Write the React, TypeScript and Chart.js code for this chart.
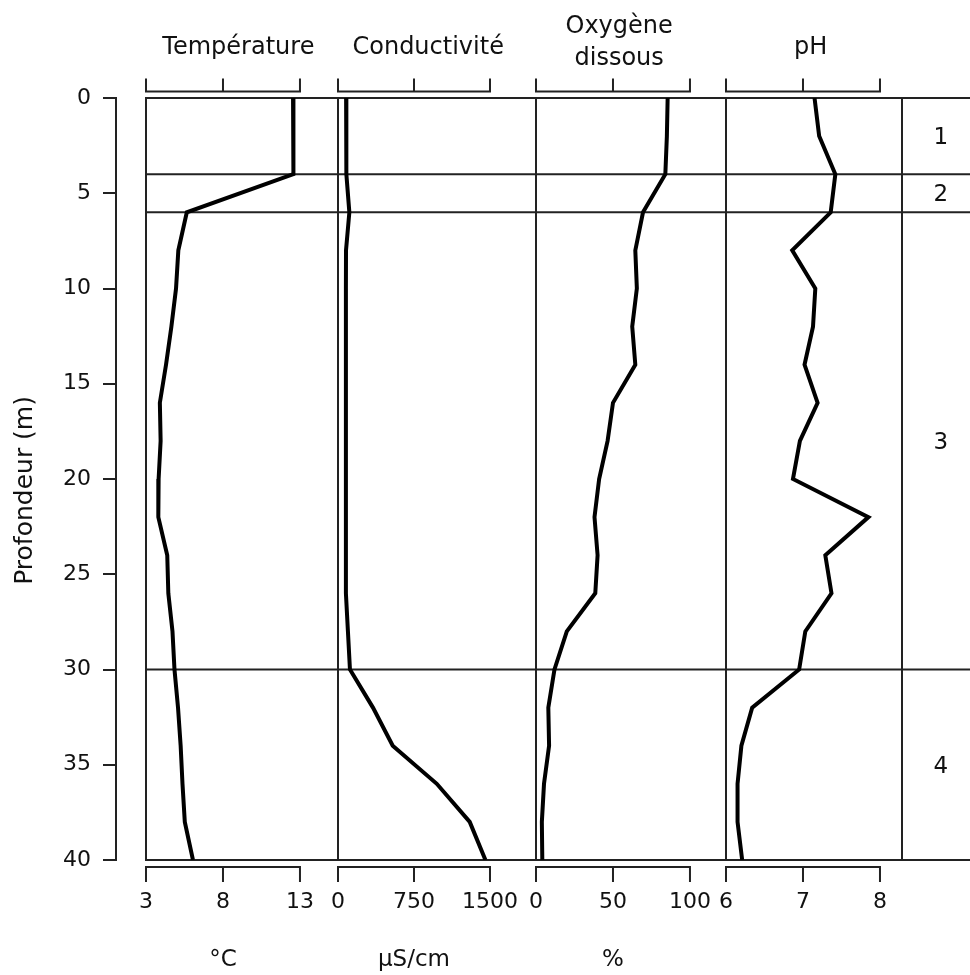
import React, { useEffect, useRef } from "react";
import { Chart, registerables } from "chart.js";

Chart.register(...registerables);

// Sampling depths (m)
const depths = [0, 2, 4, 6, 8, 10, 12, 14, 16, 18, 20, 22, 24, 26, 28, 30, 32, 34, 36, 38, 40];

// Profiles measured at each depth
const temperature = [12.55, 12.55, 12.6, 5.65, 5.1, 4.95, 4.65, 4.3, 3.9, 3.95, 3.82, 3.8, 4.38, 4.45, 4.72, 4.85, 5.08, 5.25, 5.37, 5.52, 6.05];
const conductivity = [80, 80, 85, 112, 79, 78, 78, 78, 78, 78, 78, 78, 78, 78, 98, 118, 345, 540, 975, 1300, 1455];
const oxygen = [85.5, 85, 84, 69.5, 64.5, 65.5, 62.5, 64.5, 50, 46.5, 41, 38, 40, 38.5, 20, 12, 8, 8.5, 5.2, 3.8, 4.1];
const ph = [7.15, 7.21, 7.42, 7.36, 6.86, 7.16, 7.13, 7.02, 7.19, 6.96, 6.87, 7.85, 7.29, 7.37, 7.03, 6.95, 6.34, 6.2, 6.15, 6.15, 6.21];

// Axis ticks
const depthTicks = [0, 5, 10, 15, 20, 25, 30, 35, 40];
const tempTicks = [3, 8, 13];
const condTicks = [0, 750, 1500];
const oxyTicks = [0, 50, 100];
const phTicks = [6, 7, 8];

// Layer boundaries (m) and layer names
const zoneBounds = [0, 4, 6, 30, 40];
const zoneLabels = ["1", "2", "3", "4"];

const depthTitle = "Profondeur (m)";

const FONT = '"DejaVu Sans", sans-serif';
const INK = "#111";
const RULE = "#222";

type Panel = {
  id: string;
  title: string[];
  unit: string;
  values: number[];
  ticks: number[];
  min: number;
  max: number;
  weight: number;
  titleAt: number;
};

const panels: Panel[] = [
  { id: "xT", title: ["Température"], unit: "°C", values: temperature, ticks: tempTicks, min: 3, max: 15.47, weight: 192, titleAt: 9.0 },
  { id: "xC", title: ["Conductivité"], unit: "µS/cm", values: conductivity, ticks: condTicks, min: 0, max: 1954, weight: 198, titleAt: 890 },
  { id: "xO", title: ["Oxygène", "dissous"], unit: "%", values: oxygen, ticks: oxyTicks, min: 0, max: 123.4, weight: 190, titleAt: 54 },
  { id: "xP", title: ["pH"], unit: "", values: ph, ticks: phTicks, min: 6, max: 8.286, weight: 176, titleAt: 7.1 },
];

const BOTTOM_AXIS_HEIGHT = 115;

// keep every bottom axis at a fixed height and stop label overhang from shrinking the plot
const fixBottomAxis = (s: any) => {
  s.height = BOTTOM_AXIS_HEIGHT;
  s.paddingLeft = 0;
  s.paddingRight = 0;
  s.paddingTop = 0;
  s.paddingBottom = 0;
};

const blankAxis = (weight: number) => ({
  type: "linear",
  axis: "x",
  position: "bottom",
  stack: "panels",
  stackWeight: weight,
  min: 0,
  max: 1,
  ticks: { display: false },
  grid: { display: false },
  border: { display: false },
  afterFit: fixBottomAxis,
});

// Frame, brackets, titles and layer labels around the profiles
const framePlugin = {
  id: "profileFrame",
  beforeDatasetsDraw(chart: any) {
    const { ctx, chartArea, scales } = chart;
    const y = scales.y;
    const top = chartArea.top;
    const bottom = chartArea.bottom;
    const first = scales[panels[0].id];
    const last = scales[panels[panels.length - 1].id];

    ctx.save();
    ctx.strokeStyle = RULE;
    ctx.lineWidth = 2;
    ctx.lineCap = "butt";
    ctx.lineJoin = "miter";

    // horizontal layer boundaries
    for (const d of zoneBounds) {
      const py = y.getPixelForValue(d);
      ctx.beginPath();
      ctx.moveTo(first.left - 1, py);
      ctx.lineTo(chartArea.right, py);
      ctx.stroke();
    }

    // vertical panel borders
    const xs = panels.map((p) => scales[p.id].left).concat([last.right]);
    const y0 = y.getPixelForValue(zoneBounds[0]);
    const y1 = y.getPixelForValue(zoneBounds[zoneBounds.length - 1]);
    for (const x of xs) {
      ctx.beginPath();
      ctx.moveTo(x, y0 - 1);
      ctx.lineTo(x, y1 + 1);
      ctx.stroke();
    }

    // bracket axes above and below each panel
    const topY = top - 6.5;
    const topTick = 13;
    const botY = bottom + 7;
    const botTick = 15;
    for (const p of panels) {
      const s = scales[p.id];
      const px = s.ticks.map((t: any) => s.getPixelForValue(t.value));
      const a = px[0];
      const b = px[px.length - 1];
      ctx.beginPath();
      ctx.moveTo(a, topY - topTick);
      ctx.lineTo(a, topY);
      ctx.lineTo(b, topY);
      ctx.lineTo(b, topY - topTick);
      ctx.stroke();
      ctx.beginPath();
      ctx.moveTo(a, botY + botTick);
      ctx.lineTo(a, botY);
      ctx.lineTo(b, botY);
      ctx.lineTo(b, botY + botTick);
      ctx.stroke();
      for (let i = 1; i < px.length - 1; i++) {
        ctx.beginPath();
        ctx.moveTo(px[i], topY - topTick);
        ctx.lineTo(px[i], topY);
        ctx.moveTo(px[i], botY);
        ctx.lineTo(px[i], botY + botTick);
        ctx.stroke();
      }

      // panel title
      ctx.fillStyle = INK;
      ctx.textAlign = "center";
      ctx.textBaseline = "alphabetic";
      ctx.font = `24px ${FONT}`;
      const tx = s.getPixelForValue(p.titleAt);
      if (p.title.length === 1) {
        ctx.fillText(p.title[0], tx, top - 44);
      } else {
        p.title.forEach((line, i) => ctx.fillText(line, tx, top - 65 + i * 32));
      }

      // unit under the bottom bracket
      if (p.unit) {
        ctx.font = `23px ${FONT}`;
        ctx.fillText(p.unit, (a + b) / 2, bottom + 106);
      }
    }

    // layer numbers in the right-hand column
    const zone = scales.zone;
    ctx.font = `23px ${FONT}`;
    ctx.textAlign = "center";
    ctx.textBaseline = "middle";
    ctx.fillStyle = INK;
    const zx = zone.getPixelForValue(0.57);
    zoneLabels.forEach((lab, i) => {
      const mid = (zoneBounds[i] + zoneBounds[i + 1]) / 2;
      ctx.fillText(lab, zx, y.getPixelForValue(mid) + 2);
    });

    // depth axis title, rotated
    ctx.save();
    ctx.translate(32, y.getPixelForValue(20.6));
    ctx.rotate(-Math.PI / 2);
    ctx.font = `25px ${FONT}`;
    ctx.textAlign = "center";
    ctx.textBaseline = "alphabetic";
    ctx.fillText(depthTitle, 0, 0);
    ctx.restore();

    ctx.restore();
  },
};

export default function App() {
  const ref = useRef<HTMLCanvasElement>(null);

  useEffect(() => {
    const canvas = ref.current;
    if (!canvas) return;

    const scales: any = {
      y: {
        type: "linear",
        position: "left",
        reverse: true,
        min: 0,
        max: 40,
        afterBuildTicks: (s: any) => {
          s.ticks = depthTicks.map((v) => ({ value: v }));
        },
        ticks: {
          font: { family: FONT, size: 22 },
          color: INK,
          padding: 12,
          autoSkip: false,
          callback: (v: any) => String(v),
        },
        grid: {
          display: true,
          drawOnChartArea: false,
          drawTicks: true,
          tickLength: 13,
          lineWidth: 2,
          color: RULE,
        },
        border: { display: true, width: 2, color: RULE },
        afterFit: (s: any) => {
          s.width = 116;
          s.paddingTop = 0;
          s.paddingBottom = 0;
        },
      },
      gap: blankAxis(30),
    };

    for (const p of panels) {
      scales[p.id] = {
        type: "linear",
        axis: "x",
        position: "bottom",
        stack: "panels",
        stackWeight: p.weight,
        min: p.min,
        max: p.max,
        afterBuildTicks: (s: any) => {
          s.ticks = p.ticks.map((v) => ({ value: v }));
        },
        ticks: {
          font: { family: FONT, size: 22 },
          color: INK,
          padding: 29,
          autoSkip: false,
          maxRotation: 0,
          minRotation: 0,
          callback: (v: any) => String(v),
        },
        grid: { display: false, drawTicks: false },
        border: { display: false },
        afterFit: fixBottomAxis,
      };
    }
    scales.zone = blankAxis(68);

    const chart = new Chart(canvas, {
      type: "line",
      data: {
        datasets: panels.map((p) => ({
          label: p.title.join(" "),
          data: depths.map((d, i) => ({ x: p.values[i], y: d })),
          xAxisID: p.id,
          yAxisID: "y",
          borderColor: "#000",
          borderWidth: 4,
          pointRadius: 0,
          tension: 0,
          fill: false,
        })),
      },
      options: {
        indexAxis: "y",
        responsive: false,
        animation: false,
        devicePixelRatio: 1,
        layout: { padding: { top: 98, left: 0, right: 0, bottom: 0 } },
        plugins: {
          legend: { display: false },
          title: { display: false },
          tooltip: { enabled: false },
        },
        scales,
      } as any,
      plugins: [framePlugin],
    });

    return () => chart.destroy();
  }, []);

  return (
    <div style={{ position: "absolute", left: 0, top: 0, width: 970, height: 975, background: "#fff" }}>
      <canvas ref={ref} width={970} height={975} style={{ display: "block", width: 970, height: 975 }} />
    </div>
  );
}
